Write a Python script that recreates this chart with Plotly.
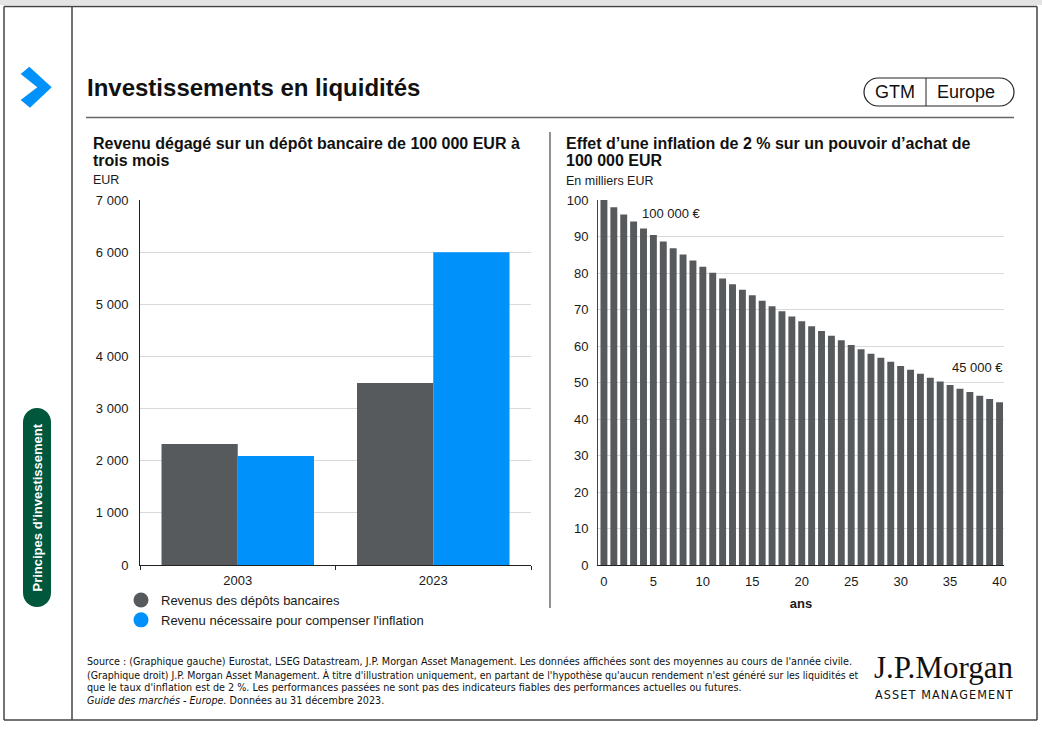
import json
import plotly.graph_objects as go

# ---------------- data ----------------
left_categories = ["2003", "2023"]
bank_deposit_income = [2320, 3490]
income_needed_inflation = [2090, 6000]
left_series_names = ["Revenus des dépôts bancaires",
                     "Revenu nécessaire pour compenser l'inflation"]

years = list(range(0, 41))
purchasing_power = [100.0, 98.0, 96.0, 94.1, 92.2, 90.4, 88.6, 86.8, 85.1, 83.4,
                    81.7, 80.1, 78.5, 76.9, 75.4, 73.9, 72.4, 70.9, 69.5, 68.1,
                    66.8, 65.4, 64.1, 62.8, 61.6, 60.3, 59.1, 57.9, 56.8, 55.7,
                    54.5, 53.5, 52.4, 51.3, 50.3, 49.3, 48.3, 47.4, 46.4, 45.5,
                    44.6]
left_yticks = [0, 1000, 2000, 3000, 4000, 5000, 6000, 7000]
right_yticks = [0, 10, 20, 30, 40, 50, 60, 70, 80, 90, 100]
right_xticks = [0, 5, 10, 15, 20, 25, 30, 35, 40]

GRAY = "#575a5d"
BLUE = "#0092fa"
GREEN = "#00573c"
FONT = "Liberation Sans, Arial, sans-serif"
NARROW = "Liberation Sans Narrow, DejaVu Sans Condensed, Arial Narrow, sans-serif"

W, H = 1042, 729


def X(px):
    return round(px / W, 5)


def Y(py):
    return round(1 - py / H, 5)


fig = go.Figure()

fig.add_trace(go.Bar(x=left_categories, y=bank_deposit_income, name=left_series_names[0],
                     marker=dict(color=GRAY, line=dict(width=0)), showlegend=False,
                     xaxis="x", yaxis="y"))
fig.add_trace(go.Bar(x=left_categories, y=income_needed_inflation, name=left_series_names[1],
                     marker=dict(color=BLUE, line=dict(width=0)), showlegend=False,
                     xaxis="x", yaxis="y"))
for nm, col in zip(left_series_names, [GRAY, BLUE]):
    fig.add_trace(go.Scatter(x=[None], y=[None], mode="markers", name=nm,
                             marker=dict(color=col, size=15, symbol="circle"),
                             xaxis="x", yaxis="y", showlegend=True))

fig.add_trace(go.Bar(x=years, y=purchasing_power, marker=dict(color=GRAY, line=dict(width=0)),
                     showlegend=False, xaxis="x2", yaxis="y2", name="Pouvoir d'achat",
                     width=0.7))

fig.update_layout(
    width=W, height=H,
    margin=dict(l=0, r=0, t=0, b=0, pad=0, autoexpand=False),
    paper_bgcolor="white", plot_bgcolor="white",
    font=dict(family=FONT, size=13, color="#1a1a1a"),
    separators=", ",
    barmode="group",
    bargap=0.22, bargroupgap=0,
    xaxis=dict(domain=[X(140), X(531)], type="category", showgrid=False, automargin=False,
               showline=True, linecolor="#222", linewidth=1,
               ticks="outside", tickson="boundaries", ticklen=4, tickcolor="#222",
               ticklabelstandoff=3, tickfont=dict(size=13), anchor="y"),
    yaxis=dict(domain=[Y(565), Y(200)], range=[0, 7000], tickvals=left_yticks, automargin=False,
               tickformat=",d", showgrid=True, gridcolor="#d9d9d9", gridwidth=1,
               showline=True, linecolor="#222", linewidth=1, zeroline=False,
               ticks="", ticklabelstandoff=8, tickfont=dict(size=13), anchor="x"),
    xaxis2=dict(domain=[X(598), X(1004)], range=[-0.6, 40.45], tickvals=right_xticks,
                automargin=False,
                showgrid=False, showline=True, linecolor="#222", linewidth=1,
                ticks="", ticklabelstandoff=4, tickfont=dict(size=13), anchor="y2",
                zeroline=False,
                title=dict(text="<b>ans</b>", font=dict(size=13), standoff=11)),
    yaxis2=dict(domain=[Y(565), Y(200)], range=[0, 100], tickvals=right_yticks,
                automargin=False,
                showgrid=True, gridcolor="#d9d9d9", gridwidth=1,
                showline=True, linecolor="#444", linewidth=1, zeroline=False,
                ticks="", ticklabelstandoff=6, tickfont=dict(size=13), anchor="x2"),
    legend=dict(x=X(121), y=Y(585), xanchor="left", yanchor="top",
                font=dict(size=13), bgcolor="rgba(0,0,0,0)", tracegroupgap=0,
                itemwidth=30),
)

frame = dict(color="#444", width=1.5)
fig.add_shape(type="rect", xref="paper", yref="paper", x0=X(0), x1=X(W), y0=Y(0), y1=Y(5),
              fillcolor="#e4e4e4", line=dict(width=0))
fig.add_shape(type="line", xref="paper", yref="paper", x0=X(4), x1=X(1037), y0=Y(6.5), y1=Y(6.5), line=frame)
fig.add_shape(type="line", xref="paper", yref="paper", x0=X(4), x1=X(4), y0=Y(6.5), y1=Y(720), line=frame)
fig.add_shape(type="line", xref="paper", yref="paper", x0=X(1037), x1=X(1037), y0=Y(6.5), y1=Y(720), line=frame)
fig.add_shape(type="line", xref="paper", yref="paper", x0=X(4), x1=X(1037), y0=Y(720), y1=Y(720), line=frame)
fig.add_shape(type="line", xref="paper", yref="paper", x0=X(72), x1=X(72), y0=Y(6.5), y1=Y(720), line=frame)
fig.add_shape(type="line", xref="paper", yref="paper", x0=X(86), x1=X(1014), y0=Y(117.5), y1=Y(117.5),
              line=dict(color="#666", width=1.5))
fig.add_shape(type="line", xref="paper", yref="paper", x0=X(550), x1=X(550), y0=Y(132), y1=Y(608),
              line=dict(color="#555", width=1.3))
fig.add_shape(type="line", xref="paper", yref="paper", x0=X(926), x1=X(926), y0=Y(78), y1=Y(106),
              line=dict(color="#222", width=1))


def P(a, b):
    return f"{X(a)},{Y(b)}"


chev = [(29.3, 66.7), (51.7, 87.3), (30, 107.7), (20.7, 100), (37.3, 87.3), (20.7, 74)]
chev_path = "M " + " L ".join(P(a, b) for a, b in chev) + " Z"


def vpill(x0, x1, y0, y1, r):
    xm = (x0 + x1) / 2
    return (f"M {P(x0, y0 + r)} C {P(x0, y0 + r * 0.45)} {P(xm - r * 0.55, y0)} {P(xm, y0)} "
            f"C {P(xm + r * 0.55, y0)} {P(x1, y0 + r * 0.45)} {P(x1, y0 + r)} "
            f"L {P(x1, y1 - r)} C {P(x1, y1 - r * 0.45)} {P(xm + r * 0.55, y1)} {P(xm, y1)} "
            f"C {P(xm - r * 0.55, y1)} {P(x0, y1 - r * 0.45)} {P(x0, y1 - r)} Z")


def hpill(x0, x1, y0, y1, r):
    ym = (y0 + y1) / 2
    return (f"M {P(x0 + r, y0)} L {P(x1 - r, y0)} "
            f"C {P(x1 - r * 0.45, y0)} {P(x1, ym - r * 0.55)} {P(x1, ym)} "
            f"C {P(x1, ym + r * 0.55)} {P(x1 - r * 0.45, y1)} {P(x1 - r, y1)} "
            f"L {P(x0 + r, y1)} C {P(x0 + r * 0.45, y1)} {P(x0, ym + r * 0.55)} {P(x0, ym)} "
            f"C {P(x0, ym - r * 0.55)} {P(x0 + r * 0.45, y0)} {P(x0 + r, y0)} Z")


extra_shapes = [
    dict(type="path", xref="paper", yref="paper", path=chev_path,
         fillcolor=BLUE, line=dict(width=0)),
    dict(type="path", xref="paper", yref="paper", path=vpill(23, 51, 408, 607, 14),
         fillcolor=GREEN, line=dict(width=0), layer="below"),
    dict(type="path", xref="paper", yref="paper", path=hpill(864, 1014, 78, 106, 14),
         line=dict(color="#222", width=1.2)),
]

ann = []


def txt(x, y, text, size=13, xanchor="left", yanchor="middle", color="#1a1a1a",
        family=FONT, angle=0, align="left"):
    ann.append(dict(x=X(x), y=Y(y), xref="paper", yref="paper", text=text,
                    showarrow=False, xanchor=xanchor, yanchor=yanchor,
                    font=dict(size=size, color=color, family=family),
                    textangle=angle, align=align, borderpad=0))


txt(86, 88, "<b>Investissements en liquidités</b>", size=24, color="#111")
txt(895, 92, "GTM", size=18, xanchor="center", color="#111")
txt(966, 92, "Europe", size=18, xanchor="center", color="#111")
txt(37, 507.5, "<b>Principes d’investissement</b>", size=13, xanchor="center",
    color="white", angle=-90)

txt(92, 143, "<b>Revenu dégagé sur un dépôt bancaire de 100 000 EUR à</b>", size=16, color="#111")
txt(92, 161, "<b>trois mois</b>", size=16, color="#111")
txt(92, 180, "EUR", size=12.5)
txt(565, 143, "<b>Effet d’une inflation de 2 % sur un pouvoir d’achat de</b>", size=16, color="#111")
txt(565, 161, "<b>100 000 EUR</b>", size=16, color="#111")
txt(565, 181, "En milliers EUR", size=12.5)

ann.append(dict(x=3.6, y=96.4, xref="x2", yref="y2", text="100 000 €", showarrow=False,
                xanchor="left", yanchor="middle", font=dict(size=13, color="#1a1a1a")))
ann.append(dict(x=X(1005), y=54.2, xref="paper", yref="y2", text="45 000 €", showarrow=False,
                xanchor="right", yanchor="middle", font=dict(size=13, color="#1a1a1a")))

footer_lines = [
    "Source : (Graphique gauche) Eurostat, LSEG Datastream, J.P. Morgan Asset Management. "
    "Les données affichées sont des moyennes au cours de l'année civile.",
    "(Graphique droit) J.P. Morgan Asset Management. À titre d'illustration uniquement, en partant "
    "de l'hypothèse qu'aucun rendement n'est généré sur les liquidités et",
    "que le taux d'inflation est de 2 %. Les performances passées ne sont pas des indicateurs "
    "fiables des performances actuelles ou futures.",
    "<i>Guide des marchés - Europe.</i> Données au 31 décembre 2023.",
]
footer_sizes = [10.7, 10.5, 10.7, 10.7]
for i, line in enumerate(footer_lines):
    txt(86, 662 + i * 12.7, line, size=footer_sizes[i], family=NARROW, color="#111")

txt(1014, 668, "J.P.Morgan", size=31, xanchor="right",
    family="Liberation Serif, Times New Roman, serif", color="#111")
txt(1014, 695, "\u200a".join("ASSET MANAGEMENT"), size=12.5, xanchor="right",
    family=NARROW, color="#111")

fig.update_layout(annotations=ann)

post = """
var hs = 'margin:0;padding:0;overflow:hidden;height:729px;width:1042px;';
document.documentElement.style.cssText = hs;
document.body.style.cssText = hs;
var gd = document.getElementById('{plot_id}');
function note(t) {
  var d = document.createElement('div');
  d.style.position='fixed'; d.style.left='80px'; d.style.top='20px';
  d.style.font='11px monospace'; d.style.color='red'; d.style.zIndex=9999;
  d.textContent = t;
  document.body.appendChild(d);
}
try {
  var p = Plotly.relayout(gd, {shapes: (gd.layout.shapes || []).concat(EXTRA)});
  if (p && p.catch) { p.catch(function(e){ note('ERR ' + e); }); }
} catch (e) { note('ERR ' + e); }
""".replace("EXTRA", json.dumps(extra_shapes))
fig.write_html("out.html", post_script=post, config={"displayModeBar": False})
